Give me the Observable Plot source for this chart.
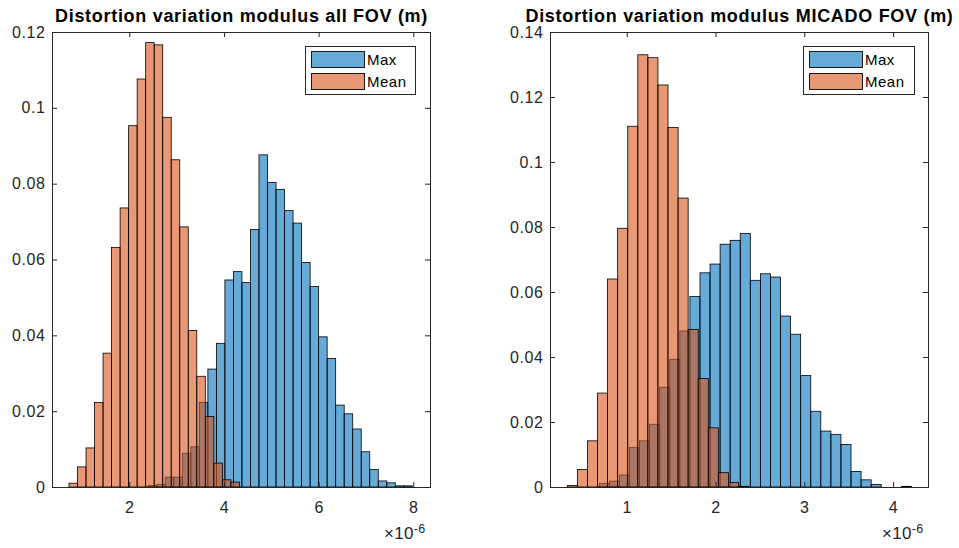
<!DOCTYPE html>
<html>
<head>
<meta charset="utf-8">
<script src="https://cdn.jsdelivr.net/npm/d3@7"></script>
<script src="https://cdn.jsdelivr.net/npm/@observablehq/plot@0.6"></script>
<style>
  html, body { margin: 0; padding: 0; background: #fff; }
  #wrap { position: relative; width: 959px; height: 548px; font-family: "Liberation Sans", Arial, sans-serif; color: #262626; overflow: hidden; }
  .panel { position: absolute; top: 0; }
  .legend { position: absolute; border: 1px solid #262626; background: #fff; box-sizing: border-box; }
  .sw { position: absolute; box-sizing: border-box; border: 1px solid #1a1a1a; }
  .lt { position: absolute; font-size: 15px; letter-spacing: 0.5px; line-height: 15px; color: #000; }
  .exp { position: absolute; font-size: 17px; color: #262626; white-space: nowrap; letter-spacing: 0.3px; }
  .exp sup { font-size: 12.5px; vertical-align: 6px; }
</style>
</head>
<body>
<div id="wrap">
  <div id="left" class="panel" style="left:0px"></div>
  <div id="right" class="panel" style="left:480px"></div>
</div>
<script>
// ---- data (histogram probabilities, x in units of 1e-6 m) ----
const leftTitle = "Distortion variation modulus all FOV (m)";
const rightTitle = "Distortion variation modulus MICADO FOV (m)";
const seriesNames = ["Max", "Mean"];

const leftBinWidth = 0.18;
const leftMaxStart = 2.40;
const leftMax = [0.00035, 0.0007, 0.0026, 0.0026, 0.0089, 0.0106, 0.0223, 0.0311, 0.0379, 0.0546,
  0.0568, 0.0539, 0.0679, 0.0876, 0.0803, 0.0785, 0.0729, 0.0696, 0.0592, 0.0529,
  0.0396, 0.0339, 0.0216, 0.0193, 0.0153, 0.0093, 0.0046, 0.0016, 0.0011, 0.0003, 0.0003];
const leftMeanStart = 0.726;
const leftMean = [0.001, 0.0053, 0.0103, 0.0223, 0.0353, 0.0632, 0.0736, 0.0953, 0.1076, 0.1172,
  0.1166, 0.0975, 0.0863, 0.0686, 0.0413, 0.0292, 0.0186, 0.0063, 0.0019, 0.0013];

const rightBinWidth = 0.1134;
const rightMaxStart = 0.691;
const rightMax = [0.0011, 0.0018, 0.0037, 0.0122, 0.0142, 0.0193, 0.0307, 0.0393, 0.048, 0.0586,
  0.0659, 0.0686, 0.0747, 0.0759, 0.078, 0.0636, 0.0656, 0.0646, 0.0526, 0.047,
  0.0343, 0.0233, 0.0172, 0.0162, 0.0131, 0.0048, 0.0022, 0.0008, 0, 0, 0.0002];
const rightMeanStart = 0.331;
const rightMean = [0.0005, 0.0054, 0.0142, 0.0289, 0.064, 0.0796, 0.111, 0.133, 0.1321, 0.1237,
  0.1106, 0.0889, 0.0485, 0.0334, 0.0182, 0.0044, 0.0014, 0.0002];

const leftXTicks = [2, 4, 6, 8];
const leftYTicks = [0, 0.02, 0.04, 0.06, 0.08, 0.1, 0.12];
const leftYLabels = ["0", "0.02", "0.04", "0.06", "0.08", "0.1", "0.12"];
const rightXTicks = [1, 2, 3, 4];
const rightYTicks = [0, 0.02, 0.04, 0.06, 0.08, 0.1, 0.12, 0.14];
const rightYLabels = ["0", "0.02", "0.04", "0.06", "0.08", "0.1", "0.12", "0.14"];
const exponentLabel = ["\u00d710", "-6"];

const colors = {Max: "#0072BD", Mean: "#D95319"};
const axisColor = "#262626";

function bins(values, start, width) {
  return values.map((v, i) => ({x1: start + i * width, x2: start + (i + 1) * width, y: v}));
}

function panel(cfg) {
  const fw = cfg.width - cfg.marginLeft - cfg.marginRight;
  const fh = cfg.height - cfg.marginTop - cfg.marginBottom;
  const tick = 5;
  const barOpts = (c) => ({x1: "x1", x2: "x2", y1: 0, y2: "y", fill: c, fillOpacity: 0.6, stroke: "#000", strokeWidth: 0.8});
  const svg = Plot.plot({
    width: cfg.width, height: cfg.height,
    marginLeft: cfg.marginLeft, marginRight: cfg.marginRight,
    marginTop: cfg.marginTop, marginBottom: cfg.marginBottom,
    style: {fontFamily: "'Liberation Sans', Arial, sans-serif", fontSize: "16px", color: axisColor, background: "transparent", overflow: "visible"},
    x: {domain: cfg.xDomain, label: null},
    y: {domain: cfg.yDomain, label: null},
    marks: [
      Plot.rectY(bins(cfg.max, cfg.maxStart, cfg.binWidth), barOpts(colors.Max)),
      Plot.rectY(bins(cfg.mean, cfg.meanStart, cfg.binWidth), barOpts(colors.Mean)),
      Plot.tickY(cfg.yTicks, {y: d => d, insetRight: fw - tick, stroke: axisColor}),
      Plot.tickY(cfg.yTicks, {y: d => d, insetLeft: fw - tick, stroke: axisColor}),
      Plot.tickX(cfg.xTicks, {x: d => d, insetTop: fh - tick, stroke: axisColor}),
      Plot.tickX(cfg.xTicks, {x: d => d, insetBottom: fh - tick, stroke: axisColor}),
      Plot.axisY({ticks: cfg.yTicks, tickSize: 0, tickPadding: 7, tickFormat: (d, i) => cfg.yLabels[i], label: null, fill: axisColor, fontSize: 16}),
      Plot.axisX({ticks: cfg.xTicks, tickSize: 0, tickPadding: 14, tickFormat: d => String(d), label: null, fill: axisColor, fontSize: 16}),
      Plot.frame({stroke: axisColor, strokeWidth: 1}),
      Plot.text([cfg.title], {frameAnchor: "top", lineAnchor: "bottom", dy: -11, fontWeight: "bold", fontSize: 18, fill: "#000", text: d => d})
    ]
  });
  const s = d3.select(svg);
  s.selectAll("g[aria-label='y-axis tick label'] text, g[aria-label='x-axis tick label'] text").attr("letter-spacing", "0.6px");
  s.selectAll("g[aria-label='text'] text").attr("letter-spacing", "0.7px");
  return svg;
}

const left = panel({
  width: 480, height: 548, marginLeft: 52, marginRight: 50, marginTop: 32, marginBottom: 61,
  xDomain: [0.367, 8.353], yDomain: [0, 0.12],
  max: leftMax, maxStart: leftMaxStart, mean: leftMean, meanStart: leftMeanStart, binWidth: leftBinWidth,
  xTicks: leftXTicks, yTicks: leftYTicks, yLabels: leftYLabels, title: leftTitle
});
const right = panel({
  width: 479, height: 548, marginLeft: 70, marginRight: 31, marginTop: 32, marginBottom: 61,
  xDomain: [0.136, 4.393], yDomain: [0, 0.14],
  max: rightMax, maxStart: rightMaxStart, mean: rightMean, meanStart: rightMeanStart, binWidth: rightBinWidth,
  xTicks: rightXTicks, yTicks: rightYTicks, yLabels: rightYLabels, title: rightTitle
});
document.getElementById("left").appendChild(left);
document.getElementById("right").appendChild(right);

// legends and exponent labels (HTML overlays)
const wrap = document.getElementById("wrap");
function legend(x, y, w) {
  const box = document.createElement("div");
  box.className = "legend";
  Object.assign(box.style, {left: x + "px", top: y + "px", width: w + "px", height: "49px"});
  seriesNames.forEach((name, i) => {
    const sw = document.createElement("div");
    sw.className = "sw";
    const c = d3.color(colors[name]); c.opacity = 0.6;
    Object.assign(sw.style, {left: "5px", top: (4 + i * 22) + "px", width: "54px", height: "17px", background: c.formatRgb()});
    box.appendChild(sw);
    const t = document.createElement("div");
    t.className = "lt";
    t.textContent = name;
    Object.assign(t.style, {left: "61px", top: (5 + i * 22) + "px"});
    box.appendChild(t);
  });
  wrap.appendChild(box);
}
legend(305, 46, 111);
legend(803, 46, 112);

function expo(x, y) {
  const e = document.createElement("div");
  e.className = "exp";
  e.innerHTML = exponentLabel[0] + "<sup>" + exponentLabel[1] + "</sup>";
  Object.assign(e.style, {left: x + "px", top: y + "px"});
  wrap.appendChild(e);
}
expo(384, 522);
expo(882, 522);
</script>
</body>
</html>
